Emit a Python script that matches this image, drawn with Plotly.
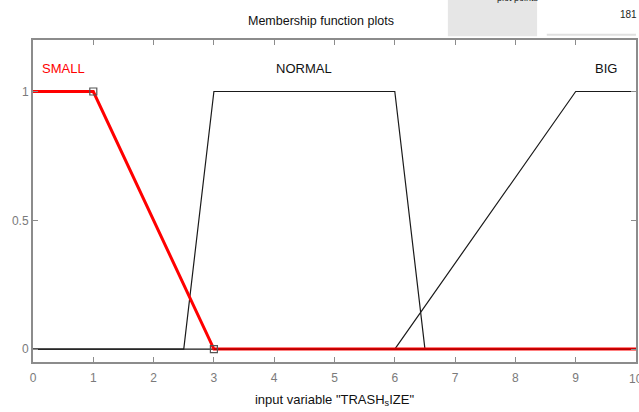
import plotly.graph_objects as go

# Universe of discourse for the input variable
x_range = [0, 10]
x_ticks = [0, 1, 2, 3, 4, 5, 6, 7, 8, 9, 10]
y_ticks = [0, 0.5, 1]
y_tick_labels = ["0", "0.5", "1"]

# Trapezoidal membership functions: breakpoints and memberships
small_x = [0, 1, 3, 10]
small_y = [1, 1, 0, 0]
normal_x = [0, 2.5, 3, 6, 6.5, 10]
normal_y = [0, 0, 1, 1, 0, 0]
big_x = [0, 6, 9, 10]
big_y = [0, 0, 1, 1]

# Selected MF vertices (edit handles)
handle_x = [1, 3]
handle_y = [1, 0]

mf_names = ["SMALL", "NORMAL", "BIG"]
label_x = [0.5, 4.5, 9.5]
label_y = [1.09, 1.09, 1.09]

plot_points = 181

FONT = "Liberation Sans, Arial, sans-serif"
AXIS_GRAY = "#8c8c8c"
TICK_FONT = dict(family=FONT, size=12, color="#7a7a7a")

fig = go.Figure()

fig.add_trace(go.Scatter(x=normal_x, y=normal_y, mode="lines",
                         line=dict(color="#1a1a1a", width=1.2), hoverinfo="skip"))
fig.add_trace(go.Scatter(x=big_x, y=big_y, mode="lines",
                         line=dict(color="#1a1a1a", width=1.2), hoverinfo="skip"))
fig.add_trace(go.Scatter(x=small_x, y=small_y, mode="lines",
                         line=dict(color="#ff0000", width=3), hoverinfo="skip"))
# thin dark baseline drawn over the red zero segment
fig.add_trace(go.Scatter(x=[small_x[2], small_x[3]], y=[small_y[2], small_y[3]], mode="lines",
                         line=dict(color="#3a0000", width=1), opacity=0.6, hoverinfo="skip"))
fig.add_trace(go.Scatter(x=handle_x, y=handle_y, mode="markers",
                         marker=dict(symbol="square-open", size=7, color="#555555",
                                     line=dict(width=1.2)), hoverinfo="skip"))

colors = ["#ff0000", "#111111", "#111111"]
for name, lx, ly, c in zip(mf_names, label_x, label_y, colors):
    fig.add_annotation(x=lx, y=ly, text=name, showarrow=False,
                       font=dict(family=FONT, size=13, color=c),
                       xanchor="center", yanchor="middle")

# Last x tick label sits on the window edge
fig.add_annotation(x=x_ticks[-1], y=0, yref="paper", text=str(x_ticks[-1]), showarrow=False,
                   font=TICK_FONT, xanchor="center", yanchor="top", yshift=-8)

# Header: title, plot-points box and value
fig.add_annotation(xref="paper", yref="paper", x=0.478, y=1.06, text="Membership function plots",
                   showarrow=False, font=dict(family=FONT, size=12.5, color="#111111"),
                   xanchor="center", yanchor="middle")
fig.add_shape(type="rect", xref="paper", yref="paper", x0=0.688, x1=0.836, y0=1.012, y1=1.13,
              fillcolor="#e6e6e6", line=dict(width=0), layer="below")
fig.add_annotation(xref="paper", yref="paper", x=0.842, y=1.13, text="plot points",
                   showarrow=False, font=dict(family=FONT, size=9, color="#222222"),
                   xanchor="right", yanchor="middle")
fig.add_annotation(xref="paper", yref="paper", x=0.987, y=1.08, text=str(plot_points),
                   showarrow=False, font=dict(family=FONT, size=10, color="#222222"),
                   xanchor="center", yanchor="middle")
fig.add_shape(type="line", xref="paper", yref="paper", x0=0.852, x1=1.0, y0=1.016, y1=1.016,
              line=dict(color="#e0e0e0", width=2))

fig.update_layout(
    width=639, height=412,
    margin=dict(l=33, r=3, t=40, b=50),
    paper_bgcolor="white", plot_bgcolor="white",
    showlegend=False,
    xaxis=dict(range=x_range, tickvals=x_ticks[:-1], ticks="inside", ticklen=5, tickcolor=AXIS_GRAY,
               showline=True, linecolor=AXIS_GRAY, linewidth=2, mirror="ticks", showgrid=False,
               zeroline=False, tickfont=TICK_FONT, ticklabelstandoff=4, automargin=False,
               title=dict(text='input variable "TRASH<sub>s</sub>IZE"', standoff=10,
                          font=dict(family=FONT, size=13, color="#111111"))),
    yaxis=dict(range=[-0.05, 1.2], tickvals=y_ticks, ticktext=y_tick_labels, ticks="inside",
               ticklen=5, tickcolor=AXIS_GRAY, showline=True, linecolor=AXIS_GRAY, linewidth=2,
               mirror="ticks", showgrid=False, zeroline=False, automargin=False,
               tickfont=TICK_FONT),
)

fig.write_html("out.html")
